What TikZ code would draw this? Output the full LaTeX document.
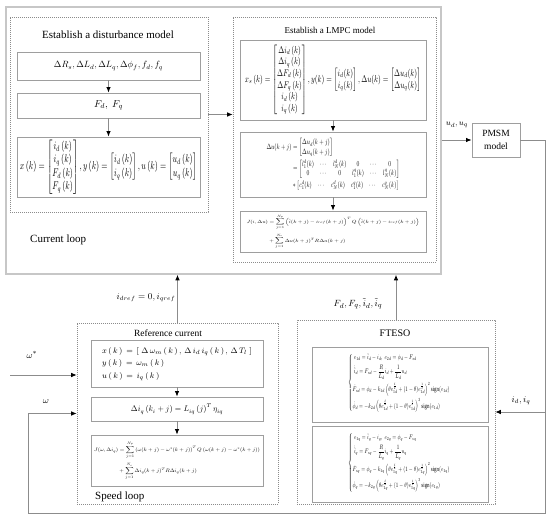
\documentclass[tikz,border=0pt]{standalone}
\usepackage{amsmath}
\usepackage{fontspec}
\setmainfont{Liberation Serif}
\usepackage{graphicx}
\usetikzlibrary{arrows.meta}
\tikzset{
  outerbox/.style={draw=black!22, line width=1.6pt, inner sep=0pt},
  dotbox/.style={draw=black!45, line width=0.6pt, dash pattern=on 0.9pt off 1.1pt, inner sep=0pt},
  box/.style={draw=black!38, line width=0.9pt, fill=white, inner sep=0pt},
  ttl/.style={inner sep=0pt},
  eqn/.style={inner sep=0pt, anchor=west},
  lbl/.style={inner sep=0pt, font=\fontsize{9.5}{12}\selectfont},
  arr/.style={draw=black!45, line width=0.8pt, -{Latex[length=5.5pt,width=4.5pt,color=black]}}
}
\begin{document}
\begin{tikzpicture}[x=1pt,y=-1pt]
\useasboundingbox (0,0) rectangle (550,524);

% ---------------- current loop ----------------
\node[outerbox, minimum width=435pt, minimum height=267pt] (cl) at (223.5,140.5) {};

\node[dotbox, minimum width=198pt, minimum height=195pt] (dm) at (109,114.5) {};
\node[ttl, font=\fontsize{11}{13}\selectfont] (dmt) at (108,35) {Establish a disturbance model};
\node[box, minimum width=183pt, minimum height=28pt] (d1) at (108.5,66)
  {\resizebox{109pt}{!}{$\Delta R_s,\Delta L_d,\Delta L_q,\Delta\phi_f,f_d,f_q$}};
\node[box, minimum width=183pt, minimum height=25pt] (d2) at (108.5,105.5)
  {\fontsize{10}{12}\selectfont$F_d,\ F_q$};
\node[box, minimum width=183pt, minimum height=60pt] (d3) at (108.5,167)
  {\resizebox*{177pt}{54pt}{$x\left(k\right)=\begin{bmatrix} i_d\left(k\right)\\ i_q\left(k\right)\\ F_d\left(k\right)\\ F_q\left(k\right)\end{bmatrix},y\left(k\right)=\begin{bmatrix} i_d\left(k\right)\\ i_q\left(k\right)\end{bmatrix},u\left(k\right)=\begin{bmatrix} u_d\left(k\right)\\ u_q\left(k\right)\end{bmatrix}$}};
\draw[arr] (d1) -- (d2);
\draw[arr] (d2) -- (d3);
\node[ttl, font=\fontsize{11}{13}\selectfont, anchor=west] (clt) at (30,240) {Current loop};

\node[dotbox, minimum width=203pt, minimum height=245pt] (lm) at (334.5,139.5) {};
\node[ttl, font=\fontsize{9}{11}\selectfont] (lmt) at (330,30) {Establish a LMPC model};
\node[box, minimum width=186pt, minimum height=80pt] (l1) at (333,80)
  {\resizebox*{176pt}{70pt}{$x_s\left(k\right)=\begin{bmatrix}\Delta i_d\left(k\right)\\ \Delta i_q\left(k\right)\\ \Delta F_d\left(k\right)\\ \Delta F_q\left(k\right)\\ i_d\left(k\right)\\ i_q\left(k\right)\end{bmatrix},y(k)=\begin{bmatrix} i_d(k)\\ i_q(k)\end{bmatrix},\Delta u(k)=\begin{bmatrix}\Delta u_d(k)\\ \Delta u_q(k)\end{bmatrix}$}};
\node[box, minimum width=186pt, minimum height=65pt] (l2) at (333,164.5)
  {\resizebox*{133pt}{52pt}{$\begin{aligned}
  \Delta u(k+j)&=\begin{bmatrix}\Delta u_d(k+j)\\ \Delta u_q(k+j)\end{bmatrix}\\
  &=\begin{bmatrix} l_1^d(k) & \cdots & l_N^d(k) & 0 & \cdots & 0\\ 0 & \cdots & 0 & l_1^q(k) & \cdots & l_N^q(k)\end{bmatrix}\\
  &\ast\begin{bmatrix} c_1^d(k) & \cdots & c_N^d(k) & c_1^q(k) & \cdots & c_N^q(k)\end{bmatrix}
  \end{aligned}$}\hspace{24pt}};
\node[box, minimum width=186pt, minimum height=41pt] (l3) at (333,231.5)
  {\resizebox*{173pt}{34pt}{$\begin{aligned}
  J(i,\Delta u)&=\sum_{j=1}^{N_p}\left(\hat{i}(k+j)-i_{ref}(k+j)\right)^T Q\left(\hat{i}(k+j)-i_{ref}(k+j)\right)\\[5pt]
  &+\sum_{j=1}^{N_c}\Delta u(k+j)^T R\Delta u(k+j)
  \end{aligned}$}};
\draw[arr] (l1) -- (l2);
\draw[arr] (l2) -- (l3);
\draw[arr] (dm.east) -- (dm.east -| lm.west);

% ---------------- PMSM ----------------
\node[box, minimum width=48pt, minimum height=34pt, align=center, font=\fontsize{9.5}{13}\selectfont] (pmsm) at (496,140) {PMSM\\model};
\node[lbl, font=\fontsize{8}{10}\selectfont] (udq) at (457,125) {$u_d,u_q$};
\draw[arr] (cl.east |- pmsm.west) -- (pmsm.west);

% ---------------- speed loop ----------------
\node[dotbox, minimum width=201pt, minimum height=181pt] (rc) at (177.5,413.5) {};
\node[ttl, font=\fontsize{9.5}{11}\selectfont] (rct) at (168,333) {Reference current};
\node[box, minimum width=172pt, minimum height=47pt] (r1) at (177,363.5)
  {\fontsize{8.5}{12.5}\selectfont$\begin{array}{@{}l@{}}
  x\,(\,k\,)\,=\,\left[\;\Delta\,\omega_m\,(\,k\,)\,,\,\Delta\,i_d\,i_q\,(\,k\,)\,,\,\Delta\,T_l\;\right]\\
  y\,(\,k\,)\,=\,\omega_m\,(\,k\,)\\
  u\,(\,k\,)\,=\,i_q\,(\,k\,)
  \end{array}$\hspace{6pt}};
\node[box, minimum width=172pt, minimum height=24pt] (r2) at (177,409)
  {\resizebox{92pt}{!}{$\Delta i_q\left(k_i+j\right)=L_{iq}\left(j\right)^T\eta_{iq}$}};
\node[box, minimum width=172pt, minimum height=51pt] (r3) at (177,460.5)
  {\resizebox*{166pt}{38pt}{$\begin{aligned}
  J(\omega,\Delta i_q)&=\sum_{j=1}^{N_p}\left(\omega(k+j)-\omega^*(k+j)\right)^T Q\left(\omega(k+j)-\omega^*(k+j)\right)\\[5pt]
  &+\sum_{j=1}^{N_c}\Delta i_q(k+j)^T R\Delta i_q(k+j)
  \end{aligned}$}};
\draw[arr] (r1) -- (r2);
\draw[arr] (r2) -- (r3);
\node[ttl, font=\fontsize{11}{13}\selectfont, anchor=west] (slt) at (95,497) {Speed loop};
\draw[arr] (rc.north) -- (rc.north |- cl.south);
\node[lbl, font=\fontsize{9}{11}\selectfont] (iref) at (146,298) {$i_{dref}=0,i_{qref}$};

% ---------------- FTESO ----------------
\node[dotbox, minimum width=198pt, minimum height=184pt] (fo) at (396,412) {};
\node[ttl, font=\fontsize{10}{12}\selectfont] (fot) at (395,333) {FTESO};
\node[box, minimum width=176pt, minimum height=75pt] (f1) at (400,384.5) {};
\node[box, minimum width=176pt, minimum height=76pt] (f2) at (400,464) {};
\node[eqn] (f1eq) at (348,383)
  {\resizebox*{102pt}{59pt}{$\left\{\begin{aligned}
  &\;e_{1d}=\hat{i}_d-i_d,\ e_{2d}=\phi_d-F_{sd}\\
  &\;\dot{\hat{i}}_d=F_{sd}-\frac{R}{L_d}i_d+\frac{1}{L_d}u_d\\
  &\dot{F}_{sd}=\phi_d-k_{1d}\left(\theta e_{1d}^{\frac{\delta}{2}}+(1-\theta)e_{1d}^{\frac{1}{\delta}}\right)^2\mathrm{sign}(e_{1d})\\
  &\dot{\phi}_d=-k_{2d}\left(\theta e_{1d}^{\frac{\delta}{2}}+(1-\theta)e_{1d}^{\frac{1}{\delta}}\right)^3\mathrm{sign}(e_{1d})
  \end{aligned}\right.$}};
\node[eqn] (f2eq) at (348,463)
  {\resizebox*{102pt}{59pt}{$\left\{\begin{aligned}
  &\;e_{1q}=\hat{i}_q-i_q,\ e_{2q}=\phi_q-F_{sq}\\
  &\;\dot{\hat{i}}_q=F_{sq}-\frac{R}{L_q}i_q+\frac{1}{L_q}u_q\\
  &\dot{F}_{sq}=\phi_q-k_{1q}\left(\theta e_{1q}^{\frac{\delta}{2}}+(1-\theta)e_{1q}^{\frac{1}{\delta}}\right)^2\mathrm{sign}(e_{1q})\\
  &\dot{\phi}_q=-k_{2q}\left(\theta e_{1q}^{\frac{\delta}{2}}+(1-\theta)e_{1q}^{\frac{1}{\delta}}\right)^3\mathrm{sign}(e_{1q})
  \end{aligned}\right.$}};
\draw[arr] (fo.north) -- (fo.north |- cl.south);
\node[lbl] (fl) at (358,304) {$F_d,F_q,\tilde{i}_d,\tilde{i}_q$};

% ---------------- feedback ----------------
\coordinate (br) at (545,513);
\coordinate (bl) at (28,513);
\draw[arr] (pmsm.east) -| (br) -- (bl) |- (rc.west);
\draw[arr] (fo.east -| br) -- (fo.east);
\node[lbl, font=\fontsize{9}{11}\selectfont] (idq) at (521,401) {$i_d,i_q$};
\node[lbl] (wl) at (46,402) {$\omega$};
\coordinate (ws) at (10,375);
\draw[arr] (ws) -- (ws -| rc.west);
\node[lbl] (wsl) at (32,355) {$\omega^*$};
\end{tikzpicture}
\end{document}
